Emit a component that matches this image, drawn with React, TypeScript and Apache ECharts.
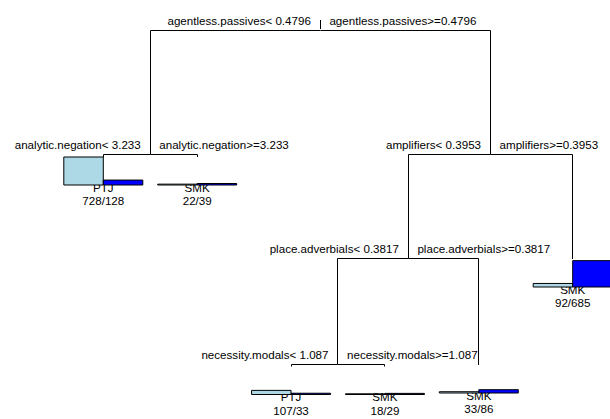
import React, { useEffect, useRef } from "react";
import * as echarts from "echarts";

// ---- Tree data (rpart classification tree) ----
// Internal split nodes: S0 (root) .. S4
const splitLeftText = [
  "agentless.passives< 0.4796",
  "analytic.negation< 3.233",
  "amplifiers< 0.3953",
  "place.adverbials< 0.3817",
  "necessity.modals< 1.087",
];
const splitRightText = [
  "agentless.passives>=0.4796",
  "analytic.negation>=3.233",
  "amplifiers>=0.3953",
  "place.adverbials>=0.3817",
  "necessity.modals>=1.087",
];
const splitDepth = [0, 1.24, 1.24, 2.28, 3.34];
const splitLeftChild = ["S1", "L0", "S3", "S4", "L2"];
const splitRightChild = ["S2", "L1", "L5", "L4", "L3"];

// Leaves, in left-to-right order
const leafClasses = ["PTJ", "SMK", "PTJ", "SMK", "SMK", "SMK"];
const leafPTJ = [728, 22, 107, 18, 33, 92];
const leafSMK = [128, 39, 33, 29, 86, 685];
const leafDepth = [1.265, 1.265, 3.36, 3.36, 3.345, 2.285];

// ---- layout helpers (styles) ----
const FONT = { fontSize: 11.6, fontFamily: "'Liberation Sans', Arial, Helvetica, sans-serif" };
const BAR_OFFSET = 0.28; // depth units from leaf to bar baseline
const COUNT_TO_DEPTH = 0.28 / 728;
const BAR_WIDTH = 0.4207; // leaf units

function nodePos(ref: string): [number, number] {
  const kind = ref[0];
  const i = Number(ref.slice(1));
  if (kind === "L") return [i, leafDepth[i]];
  const l = nodePos(splitLeftChild[i]);
  const r = nodePos(splitRightChild[i]);
  return [(l[0] + r[0]) / 2, splitDepth[i]];
}

export default function App() {
  const ref = useRef<HTMLDivElement>(null);
  useEffect(() => {
    const chart = echarts.init(ref.current!, null, { renderer: "svg" });

    const edges: number[][] = [];
    const texts: { x: number; y: number; text: string; kind: string }[] = [];
    splitDepth.forEach((_, i) => {
      const s = nodePos("S" + i);
      [splitLeftChild[i], splitRightChild[i]].forEach((c) => {
        const p = nodePos(c);
        edges.push([p[0], p[1], s[0], s[1]]);
      });
      texts.push({ x: s[0], y: s[1], text: splitLeftText[i], kind: "left" });
      texts.push({ x: s[0], y: s[1], text: splitRightText[i], kind: "right" });
    });
    const bars = leafClasses.map((_, i) => [i, leafDepth[i], leafPTJ[i], leafSMK[i]]);
    leafClasses.forEach((cls, i) => {
      texts.push({ x: i, y: leafDepth[i], text: cls, kind: "cls" });
      texts.push({ x: i, y: leafDepth[i], text: leafPTJ[i] + "/" + leafSMK[i], kind: "n" });
    });
    const root = nodePos("S0");

    const snap = (v: number) => Math.round(v - 0.5) + 0.5;

    chart.setOption({
      animation: false,
      backgroundColor: "#fff",
      grid: { left: 0, right: 0, top: 0, bottom: 0 },
      xAxis: { type: "value", min: -1.1004, max: 5.3974, show: false },
      yAxis: { type: "value", min: -0.305, max: 3.885, inverse: true, show: false },
      series: [
        {
          type: "custom",
          z: 1,
          silent: true,
          data: edges,
          renderItem: (params: any, api: any) => {
            const c = api.coord([api.value(0), api.value(1)]);
            const s = api.coord([api.value(2), api.value(3)]);
            return {
              type: "polyline",
              shape: {
                points: [
                  [snap(c[0]), c[1]],
                  [snap(c[0]), snap(s[1])],
                  [snap(s[0]), snap(s[1])],
                ],
              },
              style: { stroke: "#000", fill: "none", lineWidth: 1 },
            };
          },
        },
        {
          type: "custom",
          z: 1,
          silent: true,
          data: [[root[0], root[1]]],
          renderItem: (params: any, api: any) => {
            const p = api.coord([api.value(0), api.value(1)]);
            return {
              type: "line",
              shape: { x1: snap(p[0]), y1: p[1] - 10.5, x2: snap(p[0]), y2: p[1] - 1.5 },
              style: { stroke: "#000", lineWidth: 1 },
            };
          },
        },
        {
          type: "custom",
          z: 2,
          silent: true,
          data: texts.map((t) => [t.x, t.y]),
          renderItem: (params: any, api: any) => {
            const t = texts[params.dataIndex];
            const p = api.coord([api.value(0), api.value(1)]);
            let x = p[0];
            let y = p[1];
            let align = "center";
            if (t.kind === "left") {
              x -= 9.5;
              y -= 10;
              align = "right";
            } else if (t.kind === "right") {
              x += 9;
              y -= 10;
              align = "left";
            } else {
              const b = api.coord([api.value(0), api.value(1) + BAR_OFFSET])[1];
              y = b + (t.kind === "cls" ? 2 : 15.5);
            }
            return {
              type: "text",
              x,
              y,
              style: {
                text: t.text,
                align,
                verticalAlign: "middle",
                textAlign: align,
                textVerticalAlign: "middle",
                fill: "#000",
                ...FONT,
              },
            };
          },
        },
        {
          type: "custom",
          z: 3,
          silent: true,
          data: bars,
          renderItem: (params: any, api: any) => {
            const p = api.coord([api.value(0), api.value(1) + BAR_OFFSET]);
            const w = api.size([BAR_WIDTH, 0])[0];
            const h1 = api.size([0, api.value(2) * COUNT_TO_DEPTH])[1];
            const h2 = api.size([0, api.value(3) * COUNT_TO_DEPTH])[1];
            return {
              type: "group",
              children: [
                {
                  type: "rect",
                  shape: { x: p[0] - w, y: p[1] - h1, width: w, height: h1 },
                  style: { fill: "#ADD8E6", stroke: "#000", lineWidth: 1 },
                },
                {
                  type: "rect",
                  shape: { x: p[0], y: p[1] - h2, width: w, height: h2 },
                  style: { fill: "#0000FF", stroke: "#000", lineWidth: 1 },
                },
              ],
            };
          },
        },
      ],
    });
    return () => chart.dispose();
  }, []);
  return (
    <div
      ref={ref}
      style={{ position: "fixed", left: 0, top: 0, width: 610, height: 419, background: "#fff" }}
    />
  );
}
